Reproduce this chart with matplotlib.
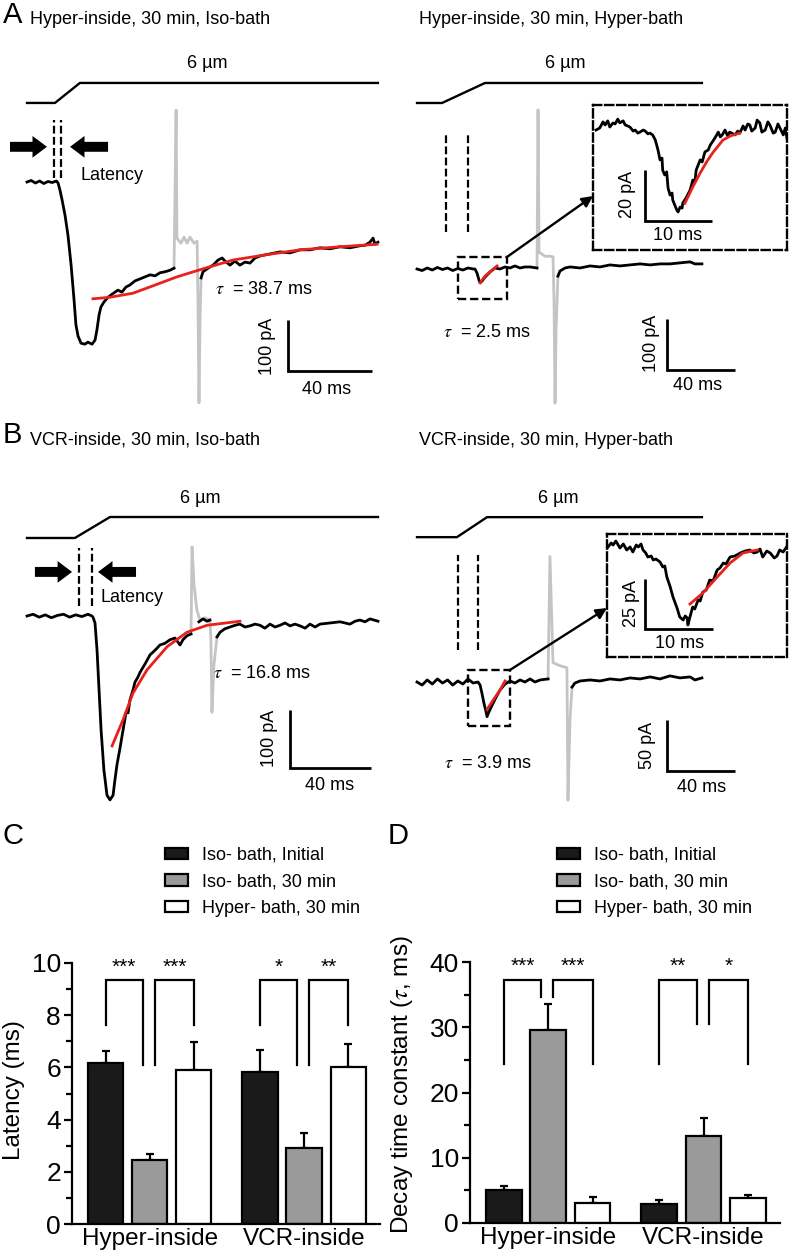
import numpy as np
import matplotlib.pyplot as plt
from matplotlib.patches import Patch, Rectangle, ConnectionPatch
from matplotlib.ticker import MultipleLocator

W, H = 792, 1258

plt.rcParams['font.family'] = ['Liberation Sans', 'DejaVu Sans']
plt.rcParams['mathtext.fontset'] = 'stix'

# ---------------- trace data (time in ms, current in pA) ----------------
stim_um = [0, 0, 6, 6]

# A, Hyper-inside, Iso-bath
ai_stim_t = [0, 13.3, 25.2, 167.1]
ai_t_pre = [0, 2, 4, 6, 8, 10, 12, 14, 14.8, 15.7, 16.7, 18.1, 19.5, 21.0, 22.4, 23.3, 24.3, 25.7,
            27.6, 29.0, 31.0, 32.4, 33.3, 34.3, 35.2, 36.7, 38.6, 40.5, 43.3, 45.2, 47.1, 49.0,
            51.4, 53.8, 56.2, 58.6, 61.0, 63.3, 65.7, 68.1, 70.0]
ai_i_pre = [0, 3, -2, 2, -3, 1, -1, 2, -2, -16, -35, -65, -104, -163, -231, -280, -302, -316,
            -318, -314, -318, -310, -290, -261, -245, -235, -226, -220, -212, -216, -206, -202,
            -194, -190, -186, -182, -184, -178, -176, -173, -169]
ai_t_gray = [70.0, 71.0, 71.4, 73.3, 74.8, 76.2, 77.6, 79.5, 81.0, 81.4, 81.9, 82.4, 82.9]
ai_i_gray = [-169, 141, -110, -120, -108, -120, -108, -120, -116, -231, -433, -271, -188]
ai_t_post = [82.9, 83.8, 86.2, 88.6, 91.0, 92.9, 94.8, 96.7, 99.0, 101.4, 103.8, 106.2, 108.6,
             111.0, 113.3, 115.7, 120.5, 125.2, 130.0, 134.8, 139.5, 144.3, 149.0, 153.8, 158.6,
             161.0, 163.3, 164.8, 165.7, 167.1]
ai_i_post = [-188, -176, -169, -163, -153, -149, -157, -163, -155, -163, -157, -159, -149,
             -145, -143, -141, -137, -139, -133, -133, -129, -131, -127, -129, -125,
             -124, -118, -110, -122, -118]
ai_fit_t = [31.4, 39.5, 50.5, 61.0, 71.4, 84.8, 98.1, 113.3, 130.0, 149.0, 166.7]
ai_fit_i = [-229, -226, -218, -202, -186, -169, -153, -143, -133, -127, -122]
ai_latency = [12.9, 16.2]

# A, Hyper-inside, Hyper-bath
ah_stim_t = [0, 14.7, 40.0, 167.6]
ah_t_pre = [0, 3, 6, 9, 12, 15, 18, 21, 24, 27, 30, 33, 34.1, 35.3, 36.5, 37.1, 38.2, 40.0,
            42.9, 45.9, 48.8, 51.8, 54.7, 57.6, 60.6, 63.5, 66.5, 70.6]
ah_i_pre = [0, -3, 2, -2, 3, -1, 2, -3, 1, -2, 2, 0, 0, -8, -22, -27, -24, -16,
            -6, 2, 0, 4, 2, 6, 2, 4, 4, 2]
ah_t_gray = [70.6, 71.2, 71.8, 75.3, 78.2, 80.0, 80.6, 81.2, 81.8, 82.9]
ah_i_gray = [2, 312, 33, 25, 25, 24, -61, -263, -120, -14]
ah_t_post = [82.9, 84.1, 87.1, 90.0, 95.9, 101.8, 107.6, 113.5, 119.4, 125.3, 131.2, 137.1,
             142.9, 148.8, 154.7, 160.6, 163.5, 167.6]
ah_i_post = [-14, -4, 2, 4, 2, 6, 4, 8, 6, 8, 10, 8, 10, 10, 12, 14, 10, 10]
ah_fit_t = [37.1, 40.0, 43.5, 47.1]
ah_fit_i = [-27, -14, -4, 6]
ah_latency = [17.1, 30.0]
ah_zoom_t = [0.45, 1.0, 1.5, 1.8, 2.2, 2.5, 3.0, 3.3, 3.7, 4.0,
             4.5, 4.8, 5.2, 5.5, 6.0, 6.3, 6.7, 7.0, 7.5, 7.8,
             8.2, 8.5, 8.9, 9.3, 9.7, 10.0, 10.3, 10.4, 10.7, 11.0,
             11.2, 11.5, 11.8, 11.9, 12.2, 12.5, 12.7, 13.0, 13.3, 13.4,
             13.9, 14.5, 14.9, 15.2, 15.4, 16.0, 16.3, 16.7, 17.2, 17.5,
             17.9, 18.2, 18.7, 19.0, 19.3, 19.7, 20.1, 20.4, 21.2, 21.6,
             21.9, 22.4, 22.7, 23.1, 23.4, 23.7, 24.2, 24.5, 24.9, 25.2,
             25.7, 26.1, 26.4, 26.9, 27.2, 27.6, 27.9, 28.4, 28.7, 29.0]
ah_zoom_i = [-1.2, -0.4, 2.0, 0.8, 2.4, 0, 1.6, 1.2, 3.1, 1.6,
             2.4, 0.8, 0.4, 0, -1.6, -1.2, -2.4, -2.0, -1.2, -1.6,
             -2.7, -2.4, -3.1, -5.1, -9.0, -12.9, -12.2, -16.9, -18.8, -17.6,
             -23.9, -26.7, -25.9, -28.6, -30.6, -32.5, -33.3, -31.4, -31.8, -29.8,
             -27.8, -24.7, -20.8, -21.6, -16.9, -12.9, -13.7, -9.8, -9.0, -7.1,
             -5.5, -4.3, -2.0, -3.9, -3.1, -1.2, -3.5, -2.0, -3.1, -1.6,
             -2.4, 0.4, -1.2, 1.2, 0.8, -1.6, -0.4, 2.7, 1.6, -2.0,
             -1.2, 2.0, 0.8, -2.4, -2.0, 1.2, -0.4, -3.1, -0.4, -5.1]
ah_zoom_fit_t = [13.7, 14.8, 16.0, 17.0, 17.9, 19.4, 20.6, 21.9]
ah_zoom_fit_i = [-30, -24, -18, -13.5, -10, -5.1, -3.4, -2.4]

# B, VCR-inside, Iso-bath
bi_stim_t = [0, 23.6, 40.9, 172.9]
bi_t_pre = [0, 3, 6, 9, 12, 15, 18, 21, 24, 27, 30, 32, 32.5, 33.5, 34.5, 35.5, 36.5, 37.9,
            39.4, 40.9, 42.4, 43.3, 44.3, 45.8, 47.3, 48.8, 49.8, 50.7, 52.2, 53.2, 54.7, 55.7,
            58.1, 60.6, 63.1, 65.5, 68.0, 70.4, 72.9, 75.4, 76.8, 78.8, 80.8]
bi_i_pre = [0, 3, -2, 2, -3, 1, 3, -2, 2, -1, 3, 0, -2, -12, -59, -128, -197, -266,
            -309, -317, -309, -283, -257, -228, -197, -166, -167, -145, -128, -114, -105, -97,
            -83, -67, -59, -50, -47, -41, -38, -50, -41, -34, -31]
bi_t_gray = [80.8, 81.3, 82.3, 83.7, 85.2, 87.7, 90.1, 90.6, 91.1, 92.1, 93.6]
bi_i_gray = [-31, 119, 53, 10, -7, -3, -7, -41, -166, -84, -36]
bi_t_mid = [84.7, 86.7, 88.7, 90.1]
bi_i_mid = [-10, -5, -9, -7]
bi_t_post = [93.6, 95.1, 97.5, 100.0, 102.5, 104.9, 107.4, 109.9, 112.3, 114.8,
             117.2, 119.7, 122.2, 124.6, 127.1, 129.6, 132.0, 134.5, 137.0, 139.4,
             141.9, 144.3, 149.3, 154.2, 159.1, 161.6, 164.0, 166.5, 169.0, 172.9]
bi_i_post = [-36, -28, -22, -19, -16, -14, -19, -17, -14, -16,
             -21, -14, -19, -16, -12, -17, -14, -17, -21, -14,
             -19, -14, -12, -10, -14, -9, -7, -10, -5, -9]
bi_fit_t = [41.9, 47.3, 52.2, 59.1, 69.0, 78.8, 88.7, 104.9]
bi_fit_i = [-224, -179, -133, -93, -53, -28, -16, -9]
bi_latency = [25.6, 32.0]

# B, VCR-inside, Hyper-bath
bh_stim_t = [0, 23.5, 41.2, 167.6]
bh_t_pre = [0, 3, 6, 9, 12, 15, 18, 21, 24, 27, 30, 33, 35.9, 37.1, 38.2, 39.4, 40.6, 41.2,
            42.4, 44.1, 46.5, 48.8, 51.8, 54.7, 57.6, 60.6, 63.5, 66.5, 69.4, 72.4, 77.1]
bh_i_pre = [0, -3, 2, -2, 3, -1, 2, -3, 1, -2, 3, -1, 0, -3, -11, -21, -29, -34,
            -29, -23, -15, -8, -2, 1, -1, 2, 0, 3, 0, 2, 3]
bh_t_gray = [77.1, 78.2, 80.0, 84.1, 88.2, 88.8, 90.0, 91.2]
bh_i_gray = [3, 123, 19, 16, 14, -116, -37, -5]
bh_t_post = [91.2, 92.9, 95.9, 101.8, 107.6, 113.5, 119.4, 125.3, 131.2, 137.1, 142.9,
             148.8, 154.7, 160.6, 163.5, 167.6]
bh_i_post = [-5, -1, 1, 2, 1, 3, 2, 4, 3, 5, 3, 6, 4, 5, 2, 4]
bh_fit_t = [41.2, 44.7, 48.8, 51.8]
bh_fit_i = [-27, -18, -8, 1]
bh_latency = [24.1, 35.9]
bh_zoom_t = [0.15, 0.6, 0.9, 1.3, 1.9, 2.4, 2.9, 3.4, 3.8, 4.3,
             4.6, 5.0, 5.3, 5.7, 6.0, 6.5, 6.8, 7.2, 7.8, 8.2,
             8.5, 8.8, 9.3, 9.7, 10.3, 10.7, 11.2, 11.5, 11.8, 11.9,
             12.2, 12.6, 12.9, 13.4, 13.7, 14.1, 14.6, 15.1, 15.6, 16.2,
             16.6, 17.1, 17.5, 18.1, 18.8, 19.6, 20.3, 21.0, 21.6, 22.1,
             22.5, 22.9, 23.5, 24.0, 24.6, 25.0, 25.4, 25.9, 26.5]
bh_zoom_i = [0, 2.0, 1.0, 3.0, -0.5, 1.5, -1.5, 0, -2.5, 1.0,
             0, 1.5, -1.5, -3.0, -5.0, -4.5, -6.5, -6.0, -7.5, -10.0,
             -9.5, -15.0, -20.0, -25.0, -30.5, -35.0, -36.5, -34.5, -35.5, -39.0,
             -35.0, -30.0, -31.0, -26.5, -27.0, -22.5, -21.5, -16.5, -17.0, -11.5,
             -10.5, -8.0, -8.5, -5.0, -4.5, -3.0, -2.0, -1.5, -3.0, -2.5,
             -1.0, -5.0, -2.0, -3.0, -5.5, -4.5, -1.5, -2.5, 0.5]
bh_zoom_fit_t = [12.2, 14.1, 16.2, 18.1, 20.0, 22.1]
bh_zoom_fit_i = [-28.5, -23.0, -15.0, -8.0, -3.0, -1.5]

# ---------------- bar data ----------------
groups = ['Hyper-inside', 'VCR-inside']
conditions = ['Iso- bath, Initial', 'Iso- bath, 30 min', 'Hyper- bath, 30 min']
bar_colors = ['#1a1a1a', '#9a9a9a', 'white']
latency_mean = [[6.15, 2.45, 5.89], [5.83, 2.93, 6.02]]
latency_sem = [[0.47, 0.22, 1.09], [0.83, 0.56, 0.87]]
tau_mean = [[5.1, 29.6, 3.06], [2.96, 13.4, 3.83]]
tau_sem = [[0.5, 4.0, 0.92], [0.51, 2.7, 0.40]]
# (group, bar a, bar b, stars, top, left leg end, right leg end)
latency_sig = [(0, 0, 1, '***', 9.34, 7.61, 6.08), (0, 1, 2, '***', 9.34, 6.08, 7.61),
               (1, 0, 1, '*', 9.34, 7.61, 6.08), (1, 1, 2, '**', 9.34, 6.08, 7.61)]
tau_sig = [(0, 0, 1, '***', 37.3, 24.4, 34.6), (0, 1, 2, '***', 37.3, 34.6, 24.4),
           (1, 0, 1, '**', 37.3, 24.4, 30.5), (1, 1, 2, '*', 37.3, 30.5, 24.4)]

fig = plt.figure(figsize=(W / 100, H / 100), dpi=100)

LW = 2.0


def ftext(x, y, s, **kw):
    kw.setdefault('fontsize', 13)
    kw.setdefault('va', 'center')
    fig.text(x / W, 1 - y / H, s, **kw)


def trace_axes(box, t0_px, ms_px, base_px, pa_px, frame=False):
    x0, y0, x1, y1 = box
    ax = fig.add_axes([x0 / W, 1 - y1 / H, (x1 - x0) / W, (y1 - y0) / H])
    ax.set_xlim((x0 - t0_px) / ms_px, (x1 - t0_px) / ms_px)
    ax.set_ylim((base_px - y1) / pa_px, (base_px - y0) / pa_px)
    if frame:
        ax.set_xticks([])
        ax.set_yticks([])
        ax.patch.set_alpha(0)
        for s in ax.spines.values():
            s.set_linestyle((0, (3.5, 1.6)))
            s.set_linewidth(1.7)
    else:
        ax.axis('off')
    return ax


def scale_bar(ax, t, i, dt, di):
    ax.plot([t, t, t + dt], [i + di, i, i], color='k', lw=2, solid_joinstyle='miter',
            solid_capstyle='butt')


def draw_trace(ax, pre, gray, post, fit, stim_t, stim_base, stim_gain, lat, lat_span):
    ax.plot(gray[0], gray[1], color='#c4c4c4', lw=LW, zorder=1)
    ax.plot(pre[0], pre[1], color='k', lw=LW, zorder=2)
    ax.plot(post[0], post[1], color='k', lw=LW, zorder=2)
    ax.plot(fit[0], fit[1], color='#e8211c', lw=2.0, zorder=3)
    ax.plot(stim_t, stim_base + stim_gain * np.array(stim_um), color='k', lw=1.7)
    for t in lat:
        ax.plot([t, t], lat_span, color='k', lw=1.6, ls=(0, (3.5, 1.5)))


def block_arrow(ax, tail, tip, y):
    ax.annotate('', xy=(tip, y), xytext=(tail, y),
                arrowprops=dict(arrowstyle='simple,head_length=0.8,head_width=1.2,tail_width=0.55',
                                fc='k', ec='k', lw=0, shrinkA=0, shrinkB=0, mutation_scale=13))


# ---------------- panel A ----------------
ax = trace_axes((0, 30, 395, 415), 27, 2.1, 182, 0.51)
draw_trace(ax, (ai_t_pre, ai_i_pre), (ai_t_gray, ai_i_gray), (ai_t_post, ai_i_post),
           (ai_fit_t, ai_fit_i), ai_stim_t, 155, 6.54, ai_latency, (8, 122))
block_arrow(ax, -8.1, 9.5, 69)
block_arrow(ax, 38.6, 20.5, 69)
scale_bar(ax, 124.3, -370.6, 40, 100)

ax = trace_axes((400, 30, 792, 415), 417, 1.7, 269, 0.51)
draw_trace(ax, (ah_t_pre, ah_i_pre), (ah_t_gray, ah_i_gray), (ah_t_post, ah_i_post),
           (ah_fit_t, ah_fit_i), ah_stim_t, 325.5, 6.54, ah_latency, (73, 265))
scale_bar(ax, 147.1, -198, 40, 100)
ax.add_patch(Rectangle((24.1, -58.8), 28.8, 82.3, fill=False, ec='k', lw=1.7,
                       ls=(0, (3.5, 1.6))))
ins = trace_axes((593, 105, 787, 250), 593, 6.7, 127, 2.55, frame=True)
ins.plot(ah_zoom_t, ah_zoom_i, color='k', lw=LW)
ins.plot(ah_zoom_fit_t, ah_zoom_fit_i, color='#e8211c', lw=2.0)
scale_bar(ins, 7.76, -36.9, 10, 20)
fig.add_artist(ConnectionPatch(xyA=(52.9, 23.5), coordsA=ax.transData, xyB=(0, 0.372),
                               coordsB=ins.transAxes, arrowstyle='-|>', mutation_scale=16,
                               lw=1.7, color='k'))

# ---------------- panel B ----------------
ax = trace_axes((0, 450, 395, 820), 27, 2.03, 616, 0.58)
draw_trace(ax, (bi_t_pre, bi_i_pre), (bi_t_gray, bi_i_gray), (bi_t_post, bi_i_post),
           (bi_fit_t, bi_fit_i), bi_stim_t, 134.5, 6.03, bi_latency, (17, 117))
ax.plot(bi_t_mid, bi_i_mid, color='k', lw=LW, zorder=2)
block_arrow(ax, 3.9, 22.2, 76)
block_arrow(ax, 53.7, 35.0, 76)
scale_bar(ax, 129.6, -262, 40, 100)

ax = trace_axes((400, 450, 792, 820), 417, 1.7, 682, 1.02)
draw_trace(ax, (bh_t_pre, bh_i_pre), (bh_t_gray, bh_i_gray), (bh_t_post, bh_i_post),
           (bh_fit_t, bh_fit_i), bh_stim_t, 142, 3.27, bh_latency, (31, 124.5))
scale_bar(ax, 147.1, -87, 40, 50)
ax.add_patch(Rectangle((30.0, -43.1), 24.7, 54.9, fill=False, ec='k', lw=1.7,
                       ls=(0, (3.5, 1.6))))
ins = trace_axes((607, 534, 787, 657), 607, 6.8, 547, 2.0, frame=True)
ins.plot(bh_zoom_t, bh_zoom_i, color='k', lw=LW)
ins.plot(bh_zoom_fit_t, bh_zoom_fit_i, color='#e8211c', lw=2.0)
scale_bar(ins, 5.6, -41, 10, 25)
fig.add_artist(ConnectionPatch(xyA=(54.7, 11.8), coordsA=ax.transData, xyB=(0, 0.398),
                               coordsB=ins.transAxes, arrowstyle='-|>', mutation_scale=16,
                               lw=1.7, color='k'))

# trace panel text
ftext(3, 15, 'A', fontsize=21)
ftext(30, 20, 'Hyper-inside, 30 min, Iso-bath')
ftext(419, 20, 'Hyper-inside, 30 min, Hyper-bath')
ftext(207, 64, '6 µm', ha='center')
ftext(565, 64, '6 µm', ha='center')
ftext(81, 176, 'Latency')
ftext(215, 289, r'$\tau$  = 38.7 ms')
ftext(443, 333, r'$\tau$  = 2.5 ms')
ftext(267, 346, '100 pA', ha='center', rotation=90)
ftext(327, 390, '40 ms', ha='center')
ftext(651, 343, '100 pA', ha='center', rotation=90)
ftext(698, 385, '40 ms', ha='center')
ftext(627, 194, '20 pA', ha='center', rotation=90)
ftext(678, 236, '10 ms', ha='center')

ftext(3, 435, 'B', fontsize=21)
ftext(30, 440, 'VCR-inside, 30 min, Iso-bath')
ftext(419, 440, 'VCR-inside, 30 min, Hyper-bath')
ftext(200, 498, '6 µm', ha='center')
ftext(558, 498, '6 µm', ha='center')
ftext(101, 598, 'Latency')
ftext(213, 673, r'$\tau$  = 16.8 ms')
ftext(444, 763, r'$\tau$  = 3.9 ms')
ftext(270, 738, '100 pA', ha='center', rotation=90)
ftext(330, 785, '40 ms', ha='center')
ftext(648, 745, '50 pA', ha='center', rotation=90)
ftext(702, 787, '40 ms', ha='center')
ftext(631, 603, '25 pA', ha='center', rotation=90)
ftext(680, 644, '10 ms', ha='center')


# ---------------- panels C and D ----------------
def bar_panel(rect, means, sems, sig, ymax, major, minor, ylabel, label_xy, star_y):
    ax = fig.add_axes(rect)
    for k in range(3):
        xs = [g * 3.5 + k for g in range(2)]
        m = [means[g][k] for g in range(2)]
        e = [sems[g][k] for g in range(2)]
        ax.errorbar(xs, m, yerr=[[0, 0], e], fmt='none', ecolor='k', elinewidth=1.6,
                    capsize=3, capthick=1.6, zorder=1)
        ax.bar(xs, m, width=0.8, color=bar_colors[k], edgecolor='k', lw=1.6, zorder=2)
    for g, a, b, stars, top, yl, yr in sig:
        xl = g * 3.5 + a + (0.12 if a == 1 else 0)
        xr = g * 3.5 + b - (0.16 if b == 1 else 0)
        ax.plot([xl, xl, xr, xr], [yl, top, top, yr], color='k', lw=1.6,
                solid_joinstyle='miter')
        ax.text((xl + xr) / 2, star_y, stars, ha='center', va='center', fontsize=15)
    ax.set_xlim(-0.76, 6.22)
    ax.set_ylim(0, ymax)
    ax.yaxis.set_major_locator(MultipleLocator(major))
    ax.yaxis.set_minor_locator(MultipleLocator(minor))
    ax.set_xticks([1, 4.5])
    ax.set_xticklabels(groups)
    ax.tick_params(axis='x', length=0, pad=3, labelsize=17.5)
    ax.tick_params(axis='y', which='major', length=6, width=1.6, labelsize=19, pad=2)
    ax.tick_params(axis='y', which='minor', length=4, width=1.6)
    for s in ['top', 'right']:
        ax.spines[s].set_visible(False)
    for s in ['left', 'bottom']:
        ax.spines[s].set_linewidth(1.6)
    ax.set_ylabel(ylabel, fontsize=17.5)
    ax.yaxis.set_label_coords(*label_xy)
    return ax


bar_panel([72 / W, 1 - 1224 / H, 308 / W, 261 / H], latency_mean, latency_sem, latency_sig,
          10, 2, 1, 'Latency (ms)', (-0.153, 0.513), 9.85)
bar_panel([470 / W, 1 - 1223 / H, 310 / W, 261 / H], tau_mean, tau_sem, tau_sig,
          40, 10, 5, r'Decay time constant ($\tau$, ms)', (-0.177, 0.529), 39.4)

handles = [Patch(facecolor=c, edgecolor='k', lw=1.6) for c in bar_colors]
for x0 in (165, 557):
    fig.legend(handles, conditions, loc='upper left', bbox_to_anchor=(x0 / W, 1 - 847 / H),
               frameon=False, fontsize=13, borderpad=0, borderaxespad=0,
               handlelength=1.27, handleheight=0.6, handletextpad=0.8, labelspacing=0.52)

ftext(3, 836, 'C', fontsize=21)
ftext(388, 836, 'D', fontsize=21)

fig.savefig('out.png', dpi=100)
